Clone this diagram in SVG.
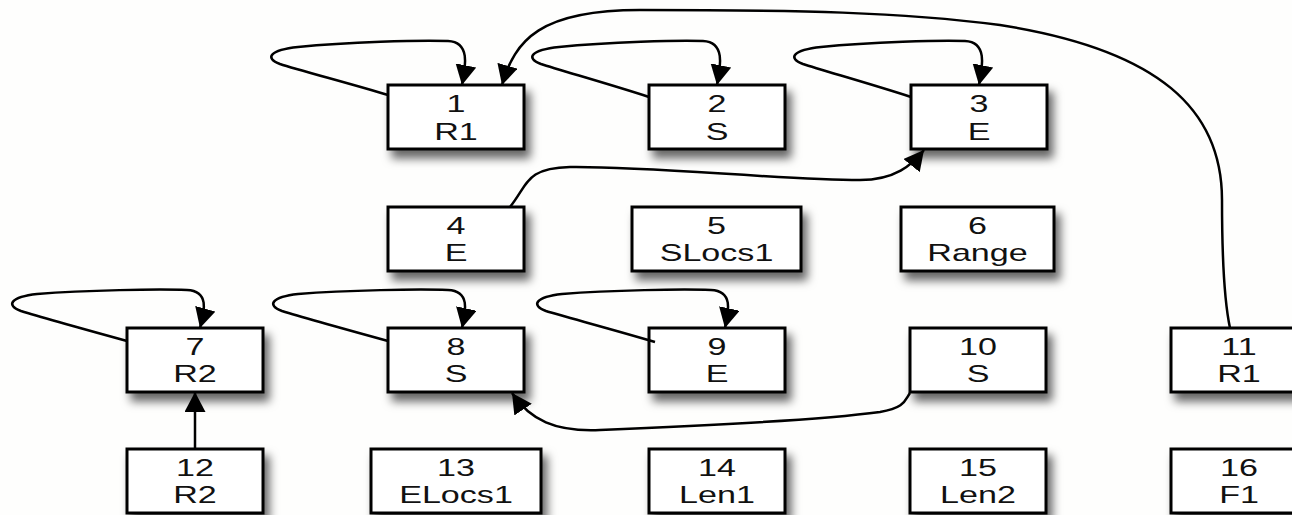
<svg xmlns="http://www.w3.org/2000/svg" width="1292" height="515" viewBox="0 0 1292 515">
  <style>
    .box { fill: #ffffff; stroke: #000000; stroke-width: 3; filter: url(#shadow); }
    .lbl { font-family: "Liberation Sans", Arial, sans-serif; font-size: 24px; fill: #111111; text-anchor: middle; }
    .edge { fill: none; stroke: #000000; stroke-width: 2.5; marker-end: url(#arrow); }
  </style>
  <defs>
    <filter id="shadow" x="-25%" y="-40%" width="160%" height="200%">
      <feDropShadow dx="5" dy="8" stdDeviation="5" flood-color="#000000" flood-opacity="0.6"/>
    </filter>
    <marker id="arrow" markerUnits="userSpaceOnUse" markerWidth="21" markerHeight="21" refX="20" refY="10.5" orient="auto">
      <path d="M0,0 L20,10.5 L0,21 Z" fill="#000000"/>
    </marker>
  </defs>
  <rect x="0" y="0" width="1292" height="515" fill="#fefefd"/>

  <!-- row 1 -->
  <g id="n1"><rect class="box" x="388" y="85" width="136" height="64"/>
    <text class="lbl" transform="translate(456,112) scale(1.42,1)">1</text>
    <text class="lbl" transform="translate(456,140) scale(1.42,1)">R1</text></g>
  <g id="n2"><rect class="box" x="649" y="85" width="136" height="64"/>
    <text class="lbl" transform="translate(717,112) scale(1.42,1)">2</text>
    <text class="lbl" transform="translate(717,140) scale(1.42,1)">S</text></g>
  <g id="n3"><rect class="box" x="911" y="85" width="136" height="64"/>
    <text class="lbl" transform="translate(979,112) scale(1.42,1)">3</text>
    <text class="lbl" transform="translate(979,140) scale(1.42,1)">E</text></g>

  <!-- row 2 -->
  <g id="n4"><rect class="box" x="388" y="207" width="136" height="64"/>
    <text class="lbl" transform="translate(456,234) scale(1.42,1)">4</text>
    <text class="lbl" transform="translate(456,261) scale(1.42,1)">E</text></g>
  <g id="n5"><rect class="box" x="632" y="207" width="169" height="64"/>
    <text class="lbl" transform="translate(716.5,234) scale(1.42,1)">5</text>
    <text class="lbl" transform="translate(716.5,261) scale(1.42,1)">SLocs1</text></g>
  <g id="n6"><rect class="box" x="901" y="207" width="153" height="64"/>
    <text class="lbl" transform="translate(977.5,234) scale(1.42,1)">6</text>
    <text class="lbl" transform="translate(977.5,261) scale(1.42,1)">Range</text></g>

  <!-- row 3 -->
  <g id="n7"><rect class="box" x="127" y="328" width="136" height="64"/>
    <text class="lbl" transform="translate(195,355) scale(1.42,1)">7</text>
    <text class="lbl" transform="translate(195,382) scale(1.42,1)">R2</text></g>
  <g id="n8"><rect class="box" x="388" y="328" width="136" height="64"/>
    <text class="lbl" transform="translate(456,355) scale(1.42,1)">8</text>
    <text class="lbl" transform="translate(456,382) scale(1.42,1)">S</text></g>
  <g id="n9"><rect class="box" x="649" y="328" width="136" height="64"/>
    <text class="lbl" transform="translate(717,355) scale(1.42,1)">9</text>
    <text class="lbl" transform="translate(717,382) scale(1.42,1)">E</text></g>
  <g id="n10"><rect class="box" x="910" y="328" width="136" height="64"/>
    <text class="lbl" transform="translate(978,355) scale(1.42,1)">10</text>
    <text class="lbl" transform="translate(978,382) scale(1.42,1)">S</text></g>
  <g id="n11"><rect class="box" x="1171" y="328" width="136" height="64"/>
    <text class="lbl" transform="translate(1239,355) scale(1.42,1)">11</text>
    <text class="lbl" transform="translate(1239,382) scale(1.42,1)">R1</text></g>

  <!-- row 4 -->
  <g id="n12"><rect class="box" x="127" y="449" width="136" height="64"/>
    <text class="lbl" transform="translate(195,476) scale(1.42,1)">12</text>
    <text class="lbl" transform="translate(195,503) scale(1.42,1)">R2</text></g>
  <g id="n13"><rect class="box" x="371" y="449" width="170" height="64"/>
    <text class="lbl" transform="translate(456,476) scale(1.42,1)">13</text>
    <text class="lbl" transform="translate(456,503) scale(1.42,1)">ELocs1</text></g>
  <g id="n14"><rect class="box" x="649" y="449" width="136" height="64"/>
    <text class="lbl" transform="translate(717,476) scale(1.42,1)">14</text>
    <text class="lbl" transform="translate(717,503) scale(1.42,1)">Len1</text></g>
  <g id="n15"><rect class="box" x="910" y="449" width="136" height="64"/>
    <text class="lbl" transform="translate(978,476) scale(1.42,1)">15</text>
    <text class="lbl" transform="translate(978,503) scale(1.42,1)">Len2</text></g>
  <g id="n16"><rect class="box" x="1171" y="449" width="136" height="64"/>
    <text class="lbl" transform="translate(1239,476) scale(1.42,1)">16</text>
    <text class="lbl" transform="translate(1239,503) scale(1.42,1)">F1</text></g>

  <!-- connectors -->
  <g id="edges">
    <!-- self loops -->
    <path class="edge" d="M388,95 C348,83 298,70 280,64 C264,58 270,50 298,47 C348,42 418,40 448,41 C470,42 466,65 462,85"/>
    <path class="edge" d="M649,97 C609,84 559,70 541,64 C525,58 531,50 559,47 C609,42 679,40 703,41 C725,42 721,65 717,85"/>
    <path class="edge" d="M911,97 C871,84 821,70 803,64 C787,58 793,50 821,47 C871,42 941,40 965,41 C987,42 983,65 979,85"/>
    <path class="edge" d="M127,341 C87,330 37,316 21,311 C5,305 11,297 37,294 C87,290 157,289 187,290 C209,291 205,310 200,328"/>
    <path class="edge" d="M388,341 C348,330 298,316 282,311 C266,305 272,297 298,294 C348,290 418,289 448,290 C470,291 466,310 462,328"/>
    <path class="edge" d="M655,342 C615,330 562,316 546,311 C530,305 536,297 562,294 C612,290 682,289 711,290 C733,291 729,310 725,328"/>
    <!-- 4 -> 3 -->
    <path class="edge" d="M510,207 C528,185 525,168 570,167 C650,166 780,180 860,180 C895,180 912,165 924,150"/>
    <!-- 10 -> 8 -->
    <path class="edge" d="M910,393 C905,400 905,408 880,412 C820,420 700,426 600,430 C555,432 530,420 512,393"/>
    <!-- 11 -> 1 -->
    <path class="edge" d="M1230,328 C1224,300 1222,260 1222,200 C1222,110 1160,50 1000,25 C900,12 800,10 640,10 C540,10 515,40 502,85"/>
    <!-- 12 -> 7 -->
    <path class="edge" d="M195,449 L195,392"/>
  </g>
</svg>
